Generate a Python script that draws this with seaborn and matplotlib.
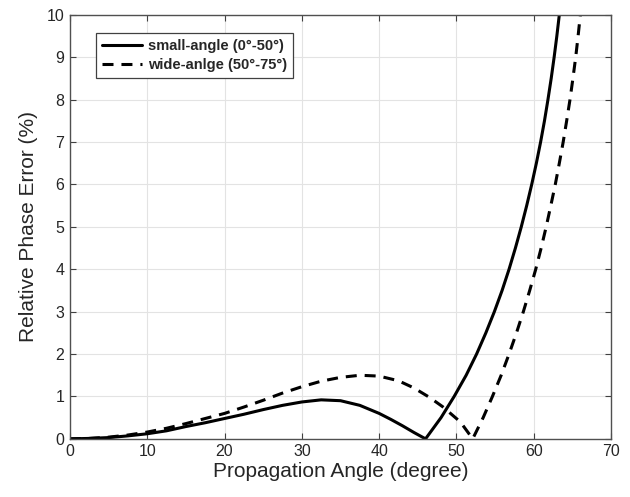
import seaborn as sns
import matplotlib.pyplot as plt
import pandas as pd

# values
small_x = [0, 2.5, 5, 7.5, 10, 12.5, 15, 17.5, 20, 22.5, 25, 27.5, 30, 32.5, 35,
           37.5, 40, 41.5, 43, 44.5, 46, 48.0, 49.7, 51.25, 52.6, 53.8, 54.9,
           55.9, 56.8, 57.62, 58.38, 59.08, 59.73, 60.33, 60.88, 61.38, 61.83,
           62.25, 62.63, 62.98, 63.3]
small_y = [0, 0.01, 0.03, 0.07, 0.12, 0.19, 0.29, 0.38, 0.48, 0.58, 0.69, 0.79,
           0.87, 0.92, 0.9, 0.79, 0.6, 0.46, 0.31, 0.15, 0, 0.5, 1, 1.5, 2,
           2.5, 3, 3.5, 4, 4.5, 5, 5.5, 6, 6.5, 7, 7.5, 8, 8.5, 9, 9.5, 10]

wide_x = [0, 2.5, 5, 7.5, 10, 12.5, 15, 17.5, 20, 22.5, 25, 27.5, 30, 32.5, 35,
          37.5, 40, 42.5, 44.5, 46.5, 48.2, 50.5, 52.1, 53.45, 54.65, 55.78,
          56.8, 57.76, 58.65, 59.47, 60.25, 60.95, 61.6, 62.2, 62.78, 63.3,
          63.8, 64.25, 64.68, 65.06, 65.42, 65.73, 66.02]
wide_y = [0, 0.01, 0.04, 0.09, 0.16, 0.25, 0.36, 0.48, 0.6, 0.75, 0.91, 1.08,
          1.23, 1.36, 1.45, 1.5, 1.48, 1.37, 1.2, 0.98, 0.76, 0.4, 0, 0.5,
          1, 1.5, 2, 2.5, 3, 3.5, 4, 4.5, 5, 5.5, 6, 6.5, 7, 7.5, 8, 8.5, 9,
          9.5, 10]

labels = ["small-angle (0°-50°)", "wide-anlge (50°-75°)"]
x_ticks = list(range(0, 71, 10))
y_ticks = list(range(0, 11))

sns.set_style("white")
plt.rcParams["font.family"] = ["Liberation Sans", "DejaVu Sans"]

fig, ax = plt.subplots(figsize=(6.3, 4.97), dpi=100)
fig.subplots_adjust(left=0.111, right=0.970, bottom=0.117, top=0.970)

small = pd.DataFrame({"x": small_x, "y": small_y})
wide = pd.DataFrame({"x": wide_x, "y": wide_y})

sns.lineplot(data=small, x="x", y="y", ax=ax, color="black", lw=2.2,
             label=labels[0])
sns.lineplot(data=wide, x="x", y="y", ax=ax, color="black", lw=2.2,
             label=labels[1])
ax.lines[1].set_linestyle((0, (3.6, 2.6)))

ax.set_xlim(0, 70)
ax.set_ylim(0, 10)
ax.set_xticks(x_ticks)
ax.set_yticks(y_ticks)
ax.grid(True, color="#e3e3e3", lw=0.8)
ax.set_axisbelow(True)
ax.tick_params(direction="in", length=4, width=0.8, color="#404040",
               labelsize=11.5, labelcolor="#262626", top=True, right=True,
               bottom=True, left=True, pad=4)
for s in ax.spines.values():
    s.set_visible(True)
    s.set_color("#505050")
    s.set_linewidth(1.0)

ax.set_xlabel("Propagation Angle (degree)", fontsize=15, color="#262626",
              labelpad=2)
ax.set_ylabel("Relative Phase Error (%)", fontsize=15, color="#262626",
              labelpad=6)

leg = ax.legend(loc="upper left", bbox_to_anchor=(0.048, 0.958),
                prop={"weight": "bold", "size": 10.5}, handlelength=2.7,
                fancybox=False, framealpha=1, edgecolor="#404040",
                borderpad=0.45, labelspacing=0.3, handletextpad=0.4,
                borderaxespad=0)
leg.get_frame().set_linewidth(0.9)
leg.get_lines()[1].set_linestyle((0, (3.6, 2.6)))

fig.savefig("out.png", dpi=100)
